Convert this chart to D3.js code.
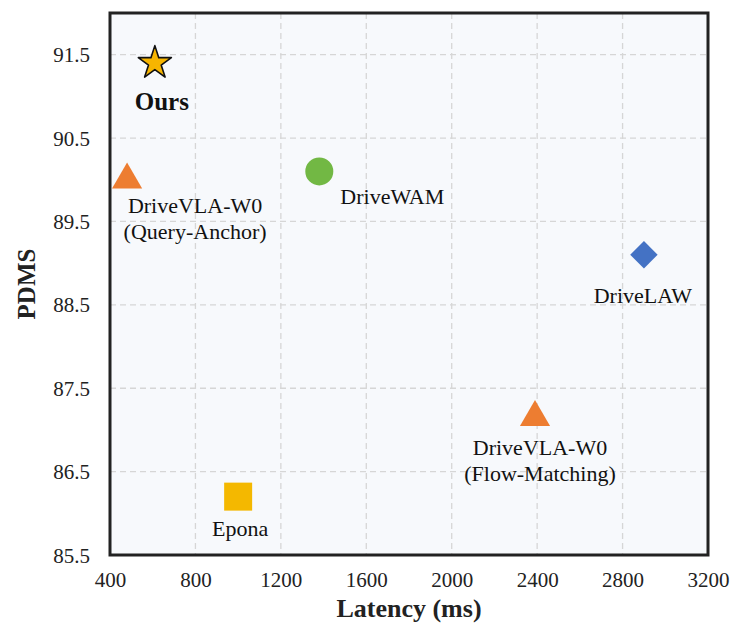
<!DOCTYPE html>
<html>
<head>
<meta charset="utf-8">
<script src="https://cdn.jsdelivr.net/npm/d3@7"></script>
<style>
  html, body { margin: 0; padding: 0; background: #fff; }
  svg text { font-family: "Liberation Serif", "Times New Roman", serif; }
</style>
</head>
<body>
<svg id="chart" width="752" height="631"></svg>
<script>
// ---- data ----
const methods   = ["Ours", "DriveVLA-W0 (Query-Anchor)", "DriveWAM", "DriveLAW", "DriveVLA-W0 (Flow-Matching)", "Epona"];
const latency   = [610, 480, 1380, 2900, 2390, 1000];
const pdms      = [91.4, 90.0, 90.1, 89.1, 87.15, 86.2];
const labelLines = [["Ours"], ["DriveVLA-W0", "(Query-Anchor)"], ["DriveWAM"], ["DriveLAW"], ["DriveVLA-W0", "(Flow-Matching)"], ["Epona"]];
const xTicks = [400, 800, 1200, 1600, 2000, 2400, 2800, 3200];
const yTicks = [85.5, 86.5, 87.5, 88.5, 89.5, 90.5, 91.5];

// ---- styles / layout (not data) ----
const markerStyle = [
  {shape: "star",     fill: "#F7B500", stroke: "#111", sw: 1.6, size: 340},
  {shape: "triangle", fill: "#ED7D31", stroke: "none", sw: 0, size: 393},
  {shape: "circle",   fill: "#72B844", stroke: "none", sw: 0, size: 616},
  {shape: "diamond",  fill: "#4472C4", stroke: "none", sw: 0, size: 376},
  {shape: "triangle", fill: "#ED7D31", stroke: "none", sw: 0, size: 393},
  {shape: "square",   fill: "#F4B800", stroke: "none", sw: 0, size: 784}
];
const labelOffset = [
  {dx: 7,  dy: 47, bold: true, fs: 25},
  {dx: 68, dy: 33, bold: false, fs: 22},
  {dx: 73, dy: 33, bold: false, fs: 22},
  {dx: -1, dy: 48, bold: false, fs: 22},
  {dx: 5,  dy: 38, bold: false, fs: 22},
  {dx: 2,  dy: 39, bold: false, fs: 22}
];

const svg = d3.select("#chart");
const L = 110, R = 708, T = 13, B = 555;

const x = d3.scaleLinear().domain([400, 3200]).range([L, R]);
const y = d3.scaleLinear().domain([85.5, 92.0]).range([B, T]);

// plot background
svg.append("rect").attr("x", L).attr("y", T).attr("width", R - L).attr("height", B - T)
  .attr("fill", "#F7F9FC");

// grid
const grid = svg.append("g");
grid.selectAll("line.v").data(xTicks.filter(d => d > 400 && d < 3200)).join("line")
  .attr("x1", d => x(d)).attr("x2", d => x(d)).attr("y1", T).attr("y2", B)
  .attr("stroke", "#D6D6D6").attr("stroke-width", 1.3).attr("stroke-dasharray", "6,4");
grid.selectAll("line.h").data(yTicks.filter(d => d > 85.5)).join("line")
  .attr("y1", d => y(d)).attr("y2", d => y(d)).attr("x1", L).attr("x2", R)
  .attr("stroke", "#D6D6D6").attr("stroke-width", 1.3).attr("stroke-dasharray", "6,4");

// axes (labels only)
const xAxis = d3.axisBottom(x).tickValues(xTicks).tickSize(0).tickPadding(0).tickFormat(d3.format("d"));
const gx = svg.append("g").attr("transform", `translate(0,${B})`).call(xAxis);
gx.attr("font-family", null);
gx.select(".domain").remove();
gx.selectAll("text").attr("font-size", 21).attr("fill", "#222").attr("dy", null).attr("y", 32)
  .style("font-family", '"Liberation Serif", "Times New Roman", serif');

const yAxis = d3.axisLeft(y).tickValues(yTicks).tickSize(0).tickPadding(0).tickFormat(d3.format(".1f"));
const gy = svg.append("g").attr("transform", `translate(${L},0)`).call(yAxis);
gy.attr("font-family", null);
gy.select(".domain").remove();
gy.selectAll("text").attr("font-size", 21).attr("fill", "#222").attr("x", -20).attr("dy", "0.34em")
  .style("font-family", '"Liberation Serif", "Times New Roman", serif');

// border
svg.append("rect").attr("x", L).attr("y", T).attr("width", R - L).attr("height", B - T)
  .attr("fill", "none").attr("stroke", "#222").attr("stroke-width", 3);

// axis titles
svg.append("text").attr("x", (L + R) / 2).attr("y", 617).attr("text-anchor", "middle")
  .attr("font-size", 26).attr("font-weight", "bold").attr("fill", "#222").text("Latency (ms)");
svg.append("text").attr("transform", `translate(35,${(T + B) / 2}) rotate(-90)`).attr("text-anchor", "middle")
  .attr("font-size", 25).attr("font-weight", "bold").attr("fill", "#222").text("PDMS");

// markers
const symbolFor = {
  star: d3.symbolStar, triangle: d3.symbolTriangle, circle: d3.symbolCircle,
  diamond: d3.symbolSquare, square: d3.symbolSquare
};
const pts = methods.map((m, i) => ({m, lat: latency[i], p: pdms[i], st: markerStyle[i], lo: labelOffset[i], lines: labelLines[i]}));

svg.append("g").selectAll("path").data(pts).join("path")
  .attr("transform", d => `translate(${x(d.lat)},${y(d.p)})` + (d.st.shape === "diamond" ? " rotate(45)" : ""))
  .attr("d", d => d3.symbol().type(symbolFor[d.st.shape]).size(d.st.size)())
  .attr("fill", d => d.st.fill).attr("stroke", d => d.st.stroke).attr("stroke-width", d => d.st.sw)
  .attr("stroke-linejoin", "round");

// labels
const lg = svg.append("g");
pts.forEach(d => {
  const t = lg.append("text")
    .attr("x", x(d.lat) + d.lo.dx).attr("y", y(d.p) + d.lo.dy)
    .attr("text-anchor", "middle").attr("font-size", d.lo.fs)
    .attr("font-weight", d.lo.bold ? "bold" : "normal").attr("fill", "#111");
  d.lines.forEach((ln, k) => {
    t.append("tspan").attr("x", x(d.lat) + d.lo.dx).attr("dy", k === 0 ? 0 : 26).text(ln);
  });
});
</script>
</body>
</html>
